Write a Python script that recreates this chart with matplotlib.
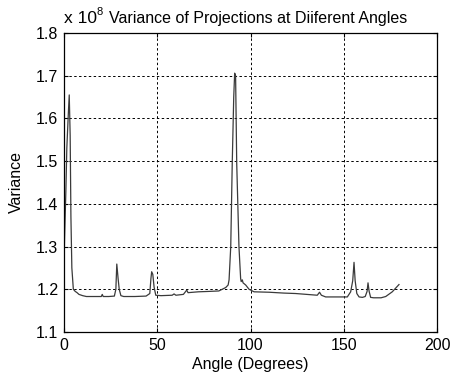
import matplotlib
matplotlib.use("Agg")
import matplotlib.pyplot as plt

angles = [0, 0.3, 1.0, 1.5, 2.3, 2.8, 3.3, 3.7, 4.2, 5.0, 6.0, 7.0, 8.0, 10.0, 12.0, 15.0,
          20.0, 20.5, 21.0, 24.0, 27.0, 27.8, 28.3, 29.0, 29.6, 30.5, 32.0, 38.0, 44.0,
          46.0, 46.6, 47.0, 47.6, 48.3, 49.2, 52.0, 58.0, 59.0, 60.0, 64.0, 65.8, 66.5,
          72.0, 78.0, 83.0, 86.7, 88.0, 88.5, 89.4, 90.2, 91.0, 91.5, 92.0, 92.6, 93.8,
          94.7, 95.0, 95.6, 96.0, 97.4, 99.2, 101.9, 110.0, 118.0, 124.2, 130.0, 135.8,
          137.0, 138.0, 140.3, 146.0, 151.9, 153.7, 154.8, 155.5, 156.1, 157.0, 158.2,
          160.0, 161.5, 162.5, 163.0, 163.6, 164.4, 166.0, 170.0, 172.5, 176.0, 179.6]
variance = [1.26, 1.32, 1.43, 1.53, 1.61, 1.655, 1.56, 1.37, 1.25, 1.20, 1.195, 1.192, 1.188,
            1.185, 1.183, 1.183, 1.183, 1.188, 1.183, 1.183, 1.184, 1.20, 1.259, 1.225, 1.20,
            1.185, 1.183, 1.183, 1.184, 1.19, 1.225, 1.241, 1.235, 1.205, 1.186, 1.185,
            1.186, 1.189, 1.186, 1.188, 1.198, 1.192, 1.194, 1.195, 1.196, 1.204, 1.21,
            1.222, 1.30, 1.495, 1.65, 1.706, 1.70, 1.495, 1.30, 1.225, 1.218, 1.222, 1.215,
            1.21, 1.20, 1.194, 1.193, 1.191, 1.190, 1.188, 1.186, 1.193, 1.186, 1.182,
            1.182, 1.182, 1.194, 1.22, 1.263, 1.22, 1.19, 1.182, 1.181, 1.183, 1.195, 1.215,
            1.195, 1.181, 1.180, 1.180, 1.183, 1.194, 1.211]

plt.rcParams['font.family'] = ['Liberation Sans', 'DejaVu Sans']

fig = plt.figure(figsize=(4.54, 3.82), dpi=100)
ax = fig.add_axes([0.141, 0.131, 0.8216, 0.7826])
ax.plot(angles, variance, color='#3a3a3a', linewidth=0.9)
ax.set_xlim(0, 200)
ax.set_ylim(1.1, 1.8)
ax.set_xticks([0, 50, 100, 150, 200])
ax.set_yticks([1.1, 1.2, 1.3, 1.4, 1.5, 1.6, 1.7, 1.8])
ax.set_yticklabels(['1.1', '1.2', '1.3', '1.4', '1.5', '1.6', '1.7', '1.8'])
ax.grid(True, color='black', linestyle=(0, (2.5, 2.5)), linewidth=0.7)
ax.tick_params(direction='in', length=3, labelsize=11.5, top=True, right=True, pad=4)
for s in ax.spines.values():
    s.set_linewidth(0.9)
ax.set_xlabel('Angle (Degrees)', fontsize=11.5, labelpad=3)
ax.set_ylabel('Variance', fontsize=11.5, labelpad=9)
ax.text(0.0, 1.022, 'x 10', transform=ax.transAxes, fontsize=12.5, ha='left', va='bottom')
ax.text(0.087, 1.052, '8', transform=ax.transAxes, fontsize=8, ha='left', va='bottom')
ax.text(0.12, 1.022, 'Variance of Projections at Diiferent Angles', transform=ax.transAxes,
        fontsize=11.5, ha='left', va='bottom')
fig.savefig('out.png', dpi=100)
